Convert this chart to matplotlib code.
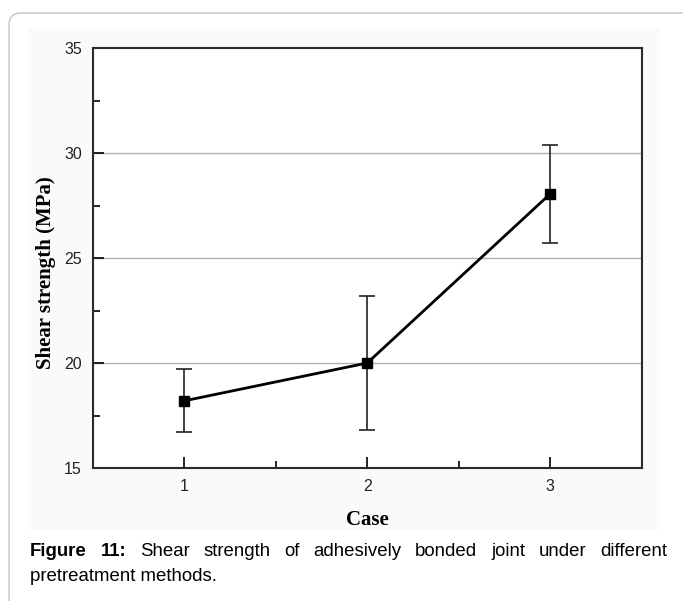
import matplotlib.pyplot as plt
from matplotlib.patches import FancyBboxPatch, Rectangle
from matplotlib.ticker import MultipleLocator

# data
cases = [1, 2, 3]
shear_strength = [18.2, 20.0, 28.05]
shear_err = [1.5, 3.2, 2.35]

y_ticks = [15, 20, 25, 30, 35]
grid_levels = [20, 25, 30]

caption_bold = ["Figure", "11:"]
caption_line1 = ["Shear", "strength", "of", "adhesively", "bonded", "joint", "under", "different"]
caption_line2 = "pretreatment methods."

plt.rcParams["font.family"] = ["Liberation Sans", "DejaVu Sans"]
plt.rcParams["xtick.labelsize"] = 11.5
plt.rcParams["ytick.labelsize"] = 11.5

W, H = 683, 601
fig = plt.figure(figsize=(W / 100, H / 100), dpi=100)

# outer rounded frame (runs off the right and bottom edges) + light panel behind the chart
fig.patches.append(FancyBboxPatch((0.09, -0.5), 7.5, (H - 13) / 100 + 0.5,
                                  boxstyle="round,pad=0,rounding_size=0.12",
                                  transform=fig.dpi_scale_trans, fill=False,
                                  edgecolor="#c4c4c4", linewidth=1.0, zorder=-2))
fig.patches.append(Rectangle((28 / W, 1 - 530 / H), (660 - 28) / W, (530 - 29) / H,
                             transform=fig.transFigure, facecolor="#fafafa",
                             edgecolor="none", zorder=-1))

ax = fig.add_axes([93 / W, 1 - 468 / H, (641.5 - 93) / W, (468 - 48) / H])
ax.set_facecolor("white")

for g in grid_levels:
    ax.axhline(g, color="#b0b0b0", linewidth=1.0, zorder=1)

ax.errorbar(cases, shear_strength, yerr=shear_err, color="black", linewidth=2.0,
            marker="s", markersize=7, ecolor="#222222", elinewidth=1.2,
            capsize=6, capthick=1.2, zorder=3)

ax.set_xlim(0.5, 3.5)
ax.set_ylim(15, 35)
ax.set_xticks(cases)
ax.set_yticks(y_ticks)
ax.xaxis.set_minor_locator(MultipleLocator(0.5))
ax.yaxis.set_minor_locator(MultipleLocator(2.5))
ax.tick_params(which="major", direction="in", length=8, width=1.2, pad=8,
               labelcolor="#222222", top=False, right=False)
ax.tick_params(which="minor", direction="in", length=5, width=1.2,
               top=False, right=False)

for s in ax.spines.values():
    s.set_linewidth(1.5)
    s.set_color("#2a2a2a")

ax.set_xlabel("Case", fontfamily="Liberation Serif", fontweight="bold", fontsize=15)
ax.set_ylabel("Shear strength (MPa)", fontfamily="Liberation Serif",
              fontweight="bold", fontsize=15)
ax.xaxis.set_label_coords(0.5, (468 - 520) / 420)
ax.yaxis.set_label_coords((46 - 93) / 548.5, (468 - 273) / 420)
ax.xaxis.label.set_va("center")
ax.yaxis.label.set_va("center")

# caption, first line justified between x=30 and x=667
renderer = fig.canvas.get_renderer()
cap_size = 13.4
y1 = 1 - 556 / H
y2 = 1 - 581 / H
words = []
for w in caption_bold:
    t = fig.text(0, y1, w, fontsize=cap_size, fontweight="bold",
                 va="baseline", ha="left")
    words.append(t)
for w in caption_line1:
    t = fig.text(0, y1, w, fontsize=cap_size, va="baseline", ha="left")
    words.append(t)
widths = [t.get_window_extent(renderer).width for t in words]
x_start, x_end = 30, 667
gap = (x_end - x_start - sum(widths)) / (len(words) - 1)
x = x_start
for t, wd in zip(words, widths):
    t.set_x(x / W)
    x += wd + gap

fig.text(30 / W, y2, caption_line2, fontsize=cap_size, va="baseline", ha="left")

fig.savefig("out.png", dpi=100)
